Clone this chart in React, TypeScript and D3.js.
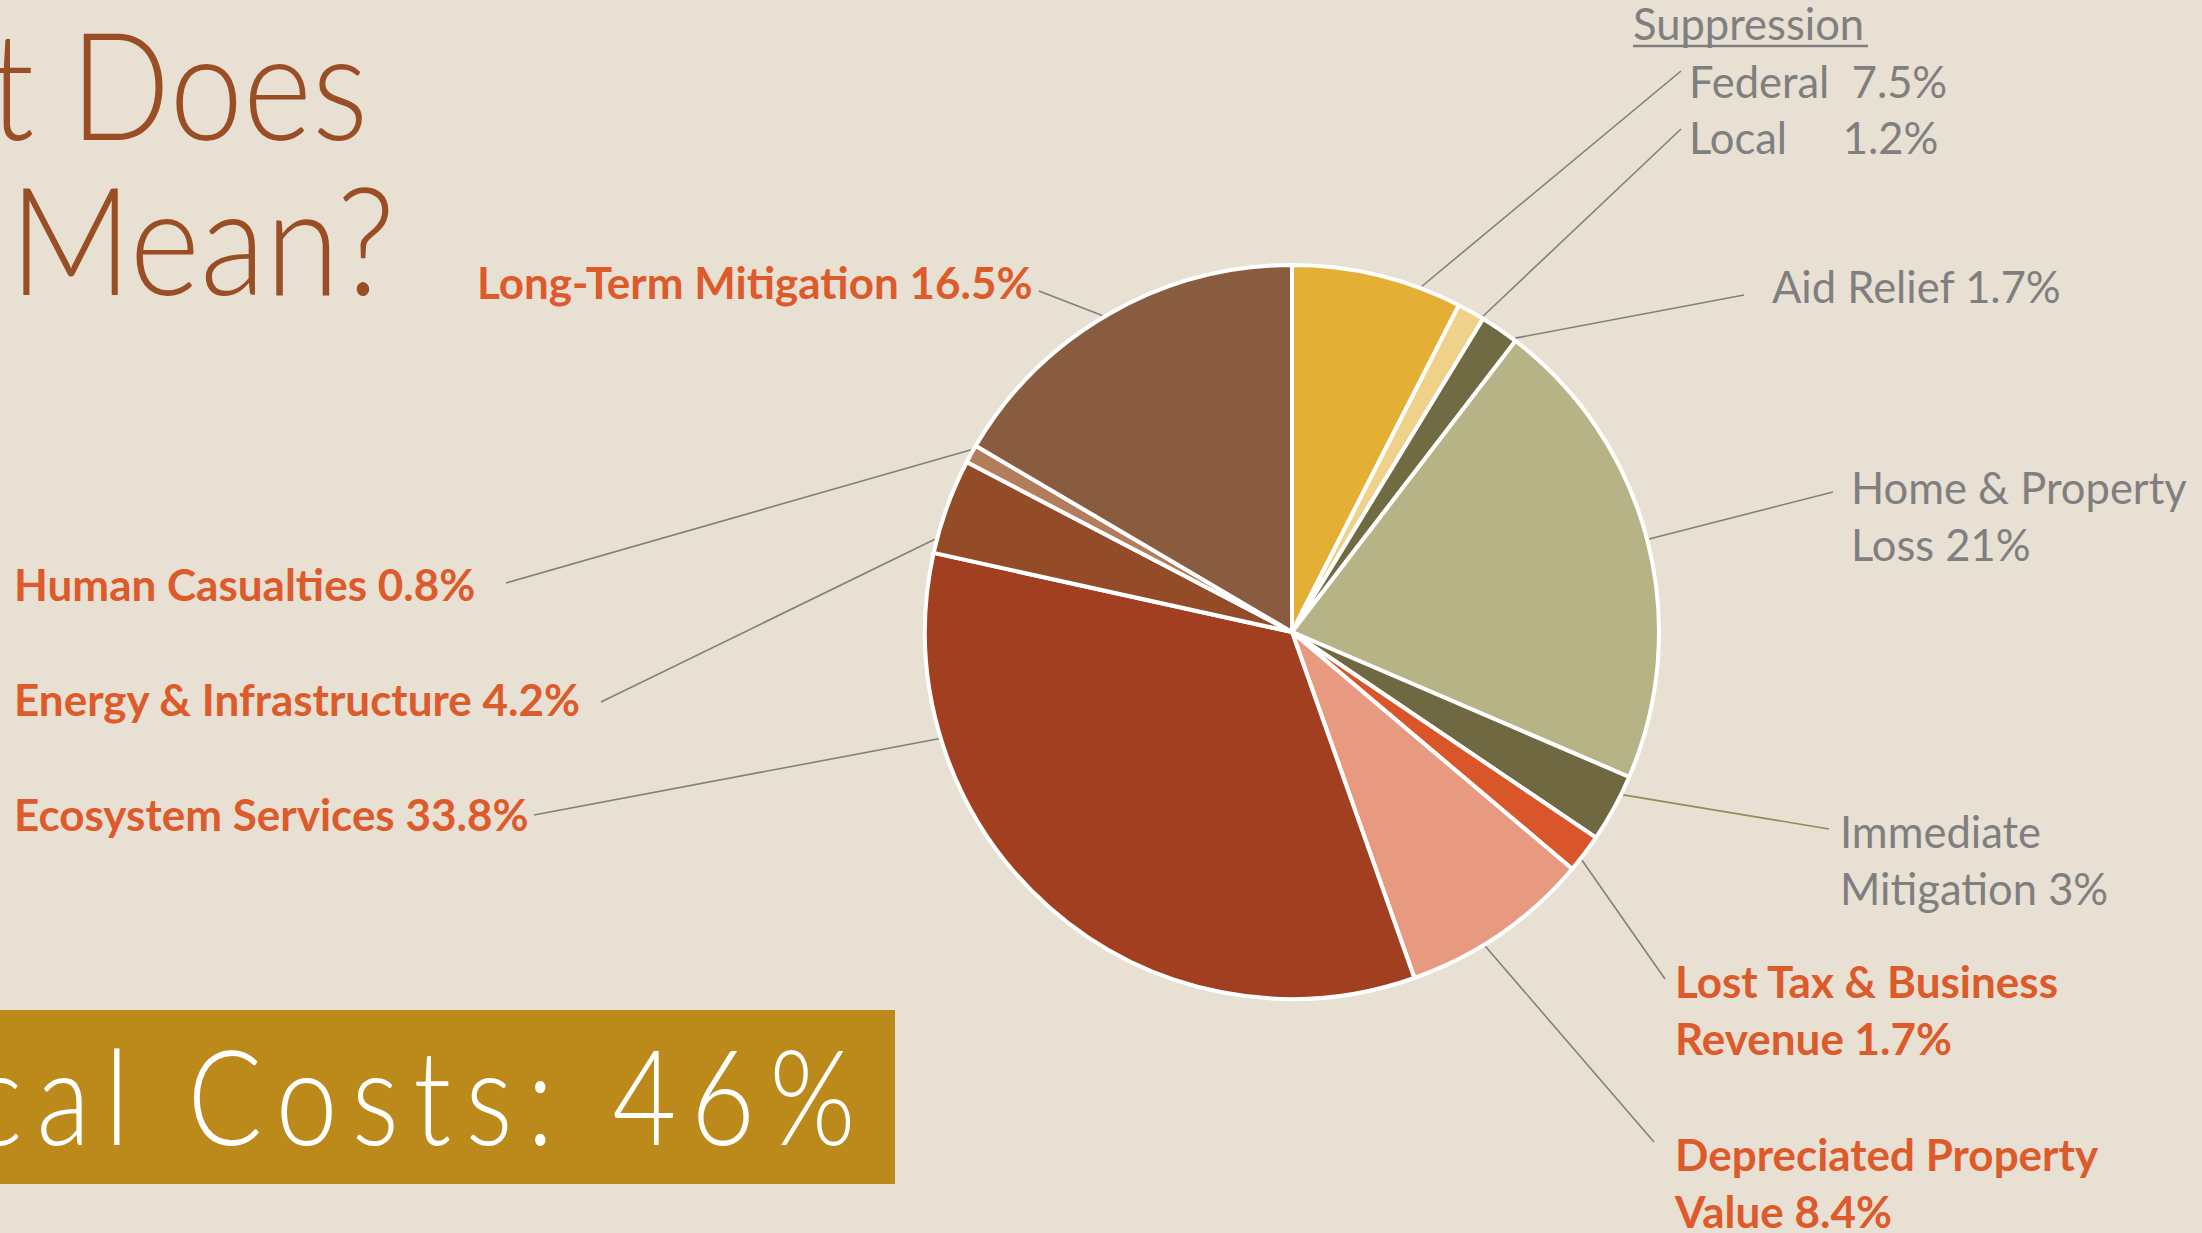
import React from "react";
import * as d3 from "d3";

const categories = [
  "Federal Suppression",
  "Local Suppression",
  "Aid Relief",
  "Home & Property Loss",
  "Immediate Mitigation",
  "Lost Tax & Business Revenue",
  "Depreciated Property Value",
  "Ecosystem Services",
  "Energy & Infrastructure",
  "Human Casualties",
  "Long-Term Mitigation",
];
const values = [7.5, 1.2, 1.7, 21, 3, 1.7, 8.4, 33.8, 4.2, 0.8, 16.5];
const sliceColors = [
  "#E3B035", "#F0D18A", "#706B43", "#B6B386", "#6F6840", "#D9552A",
  "#E89A80", "#A23F20", "#934C27", "#B37C5B", "#895C40",
];
// label lines (text), per slice
const labelLines: string[][] = [
  ["Federal  7.5%"],
  ["Local     1.2%"],
  ["Aid Relief 1.7%"],
  ["Home & Property", "Loss 21%"],
  ["Immediate", "Mitigation 3%"],
  ["Lost Tax & Business", "Revenue 1.7%"],
  ["Depreciated Property", "Value 8.4%"],
  ["Ecosystem Services 33.8%"],
  ["Energy & Infrastructure 4.2%"],
  ["Human Casualties 0.8%"],
  ["Long-Term Mitigation 16.5%"],
];
const labelBold = [false, false, false, false, false, true, true, true, true, true, true];

// layout (positions in px)
const W = 2202, H = 1233;
const CX = 1292, CY = 632, R = 367;
const labelPos = [
  { x: 1689, y: 98, lx: 1681, ly: 71 },
  { x: 1689, y: 154, lx: 1681, ly: 129 },
  { x: 1772, y: 303, lx: 1744, ly: 295 },
  { x: 1851, y: 504, lx: 1833, ly: 492 },
  { x: 1840, y: 848, lx: 1829, ly: 829 },
  { x: 1675, y: 998, lx: 1665, ly: 979 },
  { x: 1675, y: 1171, lx: 1654, ly: 1142 },
  { x: 14, y: 831, lx: 534, ly: 815 },
  { x: 14, y: 716, lx: 601, ly: 702 },
  { x: 14, y: 601, lx: 506, ly: 583 },
  { x: 477, y: 299, lx: 1039, ly: 291 },
];
const anchorFrac = [0.76, 0.95, 0.95, 0.5, 0.27, 0.67, 0.6, 0.76, 0.14, 0.7, 0.48];

export default function App() {
  const pie = d3.pie<number>().sort(null).value((d) => d);
  const arcs = pie(values);
  const arc = d3.arc<d3.PieArcDatum<number>>().innerRadius(0).outerRadius(R);
  const gray = "#7F7F7F";
  const orange = "#DD5A2B";

  return (
    <svg
      width={W}
      height={H}
      style={{ position: "absolute", left: 0, top: 0, display: "block" }}
    >
      <rect x={0} y={0} width={W} height={H} fill="#E7E0D3" />

      {/* title */}
      <text
        transform="translate(368,140) scale(0.88,1)"
        textAnchor="end"
        fontFamily="Lato"
        fontWeight={300}
        fontSize={150}
        fill="#9A4E26"
      >
        What Does
      </text>
      <text
        transform="translate(395,295) scale(0.9,1)"
        textAnchor="end"
        fontFamily="Lato"
        fontWeight={300}
        fontSize={150}
        fill="#9A4E26"
      >
        This Mean?
      </text>

      {/* box */}
      <rect x={0} y={1010} width={895} height={174} fill="#BC8A1A" />
      <text
        transform="translate(870,1145) scale(0.84,1)"
        textAnchor="end"
        fontFamily="Lato"
        fontWeight={300}
        fontSize={132}
        letterSpacing={17}
        fill="#FFFFFF"
      >
        Ecological Costs: 46%
      </text>

      {/* leader lines */}
      {arcs.map((a, i) => {
        const ang = a.startAngle + anchorFrac[i] * (a.endAngle - a.startAngle);
        const x0 = CX + (R + 2) * Math.sin(ang);
        const y0 = CY - (R + 2) * Math.cos(ang);
        return (
          <line
            key={"l" + i}
            x1={x0}
            y1={y0}
            x2={labelPos[i].lx}
            y2={labelPos[i].ly}
            stroke={i === 4 ? "#938A55" : "#80807E"}
            strokeWidth={1.6}
          />
        );
      })}

      {/* pie */}
      <g transform={`translate(${CX},${CY})`}>
        {arcs.map((a, i) => (
          <path
            key={categories[i]}
            d={arc(a) || ""}
            fill={sliceColors[i]}
            stroke="#FFFFFF"
            strokeWidth={4}
            strokeLinejoin="round"
          />
        ))}
      </g>

      {/* Suppression heading */}
      <text x={1633} y={40} fontFamily="Lato" fontSize={43.5} fill={gray}>
        Suppression
      </text>
      <line x1={1633} x2={1868} y1={46} y2={46} stroke={gray} strokeWidth={2.5} />

      {/* labels */}
      {labelLines.map((lines, i) => (
        <text
          key={"t" + i}
          fontFamily="Lato"
          fontWeight={labelBold[i] ? 700 : 400}
          fontSize={labelBold[i] ? 44 : 43.5}
          fill={labelBold[i] ? orange : gray}
          xmlSpace="preserve"
          style={{ whiteSpace: "pre" }}
        >
          {lines.map((ln, j) => (
            <tspan key={j} x={labelPos[i].x} y={labelPos[i].y + j * 57}>
              {ln}
            </tspan>
          ))}
        </text>
      ))}
    </svg>
  );
}
